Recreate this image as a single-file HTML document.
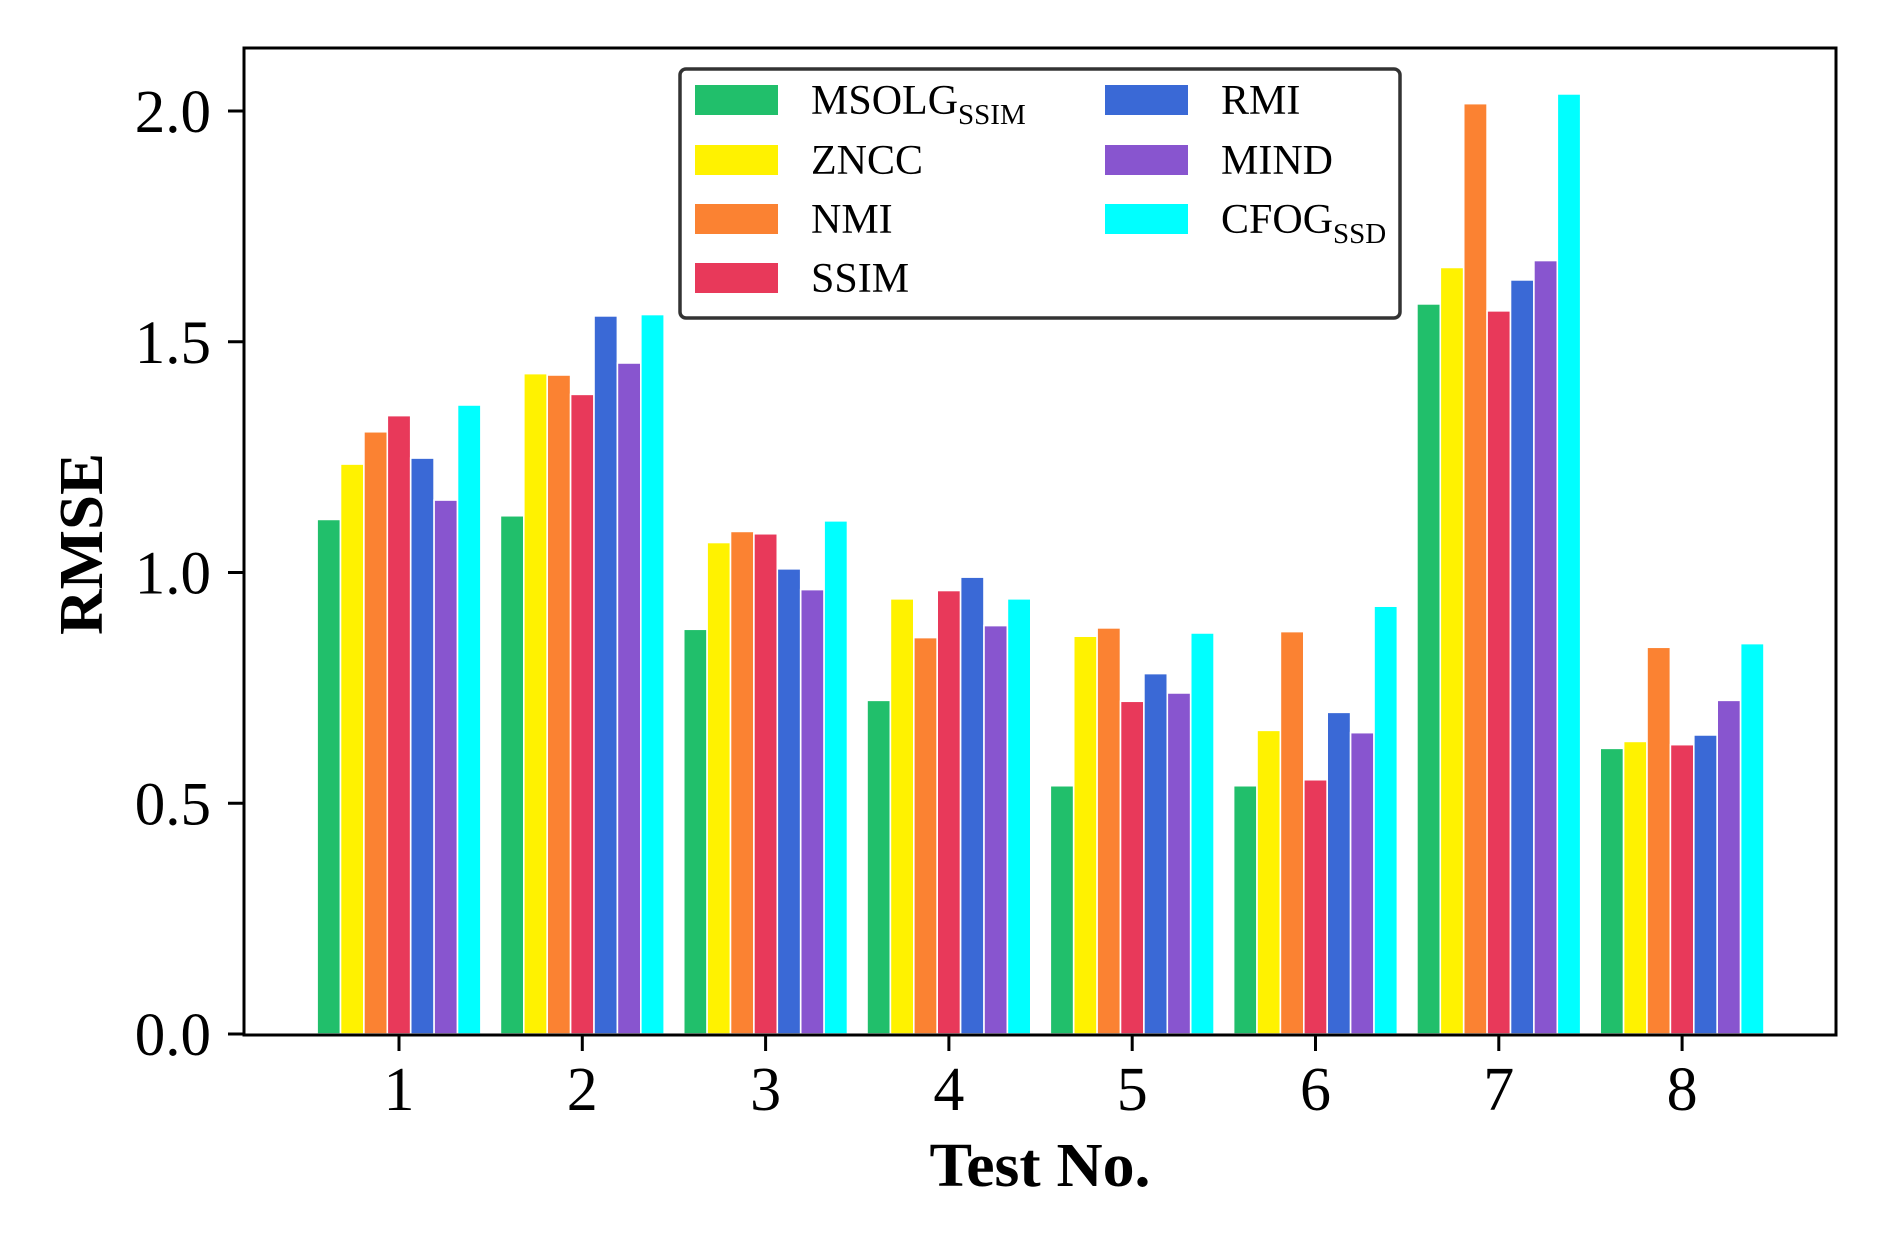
<!DOCTYPE html>
<html><head><meta charset="utf-8"><style>
html,body{margin:0;padding:0;background:#fff;}
svg{display:block;font-family:"Liberation Serif","DejaVu Serif",serif;}
</style></head><body>
<svg id="chart" width="1890" height="1252" viewBox="0 0 1890 1252" xmlns="http://www.w3.org/2000/svg">
<rect x="0" y="0" width="1890" height="1252" fill="#fff"/>
<g id="bars"></g>
<g id="axes"></g>
<g id="legend"></g>
</svg>
<script>
const categories = ["1","2","3","4","5","6","7","8"];
const seriesNames = ["MSOLG","ZNCC","NMI","SSIM","RMI","MIND","CFOG"];
const msolg = [1.115,1.123,0.877,0.723,0.538,0.538,1.582,0.619];
const zncc  = [1.235,1.431,1.065,0.943,0.862,0.658,1.661,0.634];
const nmi   = [1.305,1.428,1.089,0.859,0.880,0.872,2.016,0.838];
const ssim  = [1.340,1.386,1.084,0.961,0.721,0.551,1.567,0.627];
const rmi   = [1.248,1.556,1.008,0.990,0.781,0.697,1.634,0.648];
const mind  = [1.157,1.454,0.963,0.885,0.739,0.653,1.676,0.723];
const cfog  = [1.363,1.559,1.112,0.943,0.869,0.927,2.037,0.846];
const yTicks = [0.0,0.5,1.0,1.5,2.0];
const yTickLabels = ["0.0","0.5","1.0","1.5","2.0"];

const series = [msolg,zncc,nmi,ssim,rmi,mind,cfog];
const colors = ["#21bf6b","#fff200","#fb8232","#e8395a","#3a69d6","#8855cf","#00ffff"];
const NS = "http://www.w3.org/2000/svg";
const L=244,R=1836,T=48,B=1035;
const y0=1034, pxPerUnit=461.5;
const x1=399, xStep=183.3, slot=23.4;
function yScale(v){return y0 - v*pxPerUnit;}
function xScale(i){return x1 + i*xStep;}
function mk(tag,attrs,parent){const e=document.createElementNS(NS,tag);for(const k in attrs)e.setAttribute(k,attrs[k]);parent.appendChild(e);return e;}

const gb=document.getElementById('bars');
series.forEach((vals,s)=>{
  vals.forEach((v,i)=>{
    const cx=xScale(i)+(s-3)*slot;
    const r=mk('rect',{x:cx-slot/2,y:yScale(v),width:slot,height:y0-yScale(v),fill:colors[s],stroke:'#fff','stroke-width':1.6},gb);
    
    
  });
});

const ga=document.getElementById('axes');
const frame=mk('rect',{x:L,y:T,width:R-L,height:B-T,fill:'none',stroke:'#000','stroke-width':3},ga);


yTicks.forEach((v,i)=>{
  const y=yScale(v);
  const t=mk('line',{x1:L-16,x2:L,y1:y,y2:y,stroke:'#000','stroke-width':3},ga);
  
  
  const tx=mk('text',{x:211,y:y+21,'font-size':61,'text-anchor':'end',fill:'#000'},ga);
  tx.textContent=yTickLabels[i];
  
  
});
categories.forEach((c,i)=>{
  const x=xScale(i);
  const t=mk('line',{x1:x,x2:x,y1:B,y2:B+16,stroke:'#000','stroke-width':3},ga);
  
  
  const tx=mk('text',{x:x,y:1110,'font-size':62,'text-anchor':'middle',fill:'#000'},ga);
  tx.textContent=c;
  
  
});
const xt=mk('text',{x:1040,y:1186,'font-size':62,'font-weight':'bold','text-anchor':'middle',fill:'#000',textLength:221,lengthAdjust:'spacingAndGlyphs'},ga);
xt.textContent='Test No.';


const yt=mk('text',{x:0,y:0,'font-size':62,'font-weight':'bold','text-anchor':'middle',fill:'#000',textLength:182,lengthAdjust:'spacingAndGlyphs',transform:'translate(102,544) rotate(-90)'},ga);
yt.textContent='RMSE';



const gl=document.getElementById('legend');
const box=mk('rect',{x:680,y:69,width:720,height:249,rx:6,fill:'#fff',stroke:'#333','stroke-width':3.5},gl);


const rowsY=[100,160,219,278];
const subs=["SSIM","","","","","","SSD"];
seriesNames.forEach((n,s)=>{
  const col=s<4?0:1, row=s<4?s:s-4;
  const px=col?1105:695, tx=col?1221:811, cy=rowsY[row];
  const p=mk('rect',{x:px,y:cy-15,width:83,height:30,fill:colors[s]},gl);
  
  
  const t=mk('text',{x:tx,y:cy+14,'font-size':42,fill:'#000'},gl);
  
  
  t.appendChild(document.createTextNode(n));
  if(subs[s]){
    const ts=document.createElementNS(NS,'tspan');
    ts.setAttribute('font-size',29);
    ts.setAttribute('dy',10);
    ts.textContent=subs[s];
    t.appendChild(ts);
  }
});
</script>
</body></html>
